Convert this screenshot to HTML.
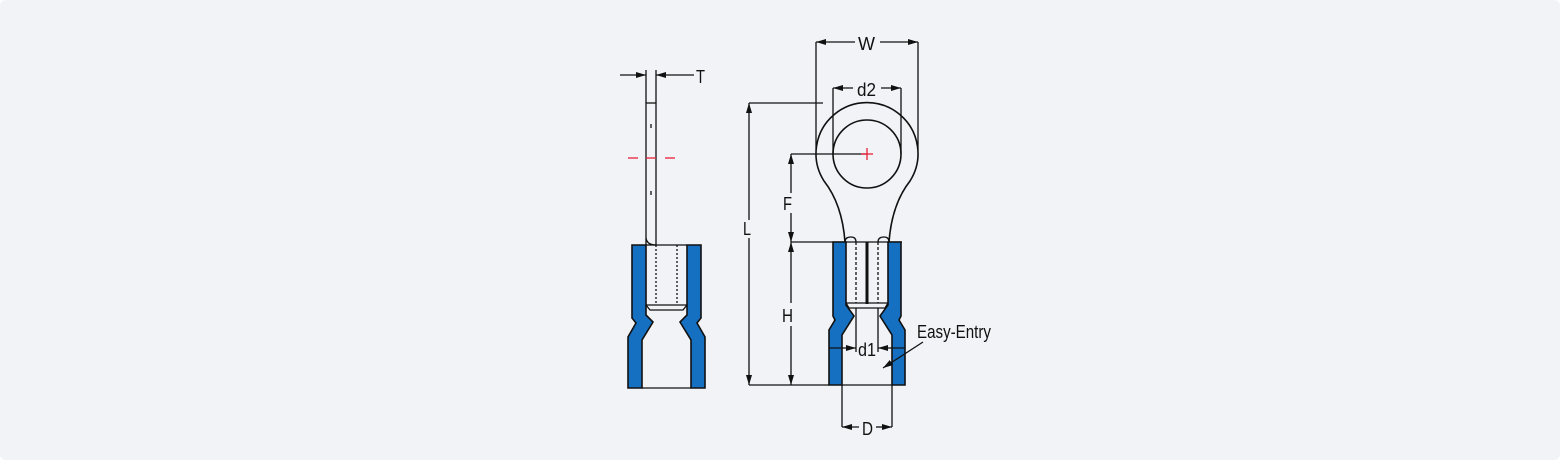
<!DOCTYPE html>
<html><head><meta charset="utf-8"><style>
html,body{margin:0;padding:0;background:#fff;}
.wrap{width:1560px;height:460px;background:#f2f3f7;border-radius:6px;overflow:hidden;}
text{font-family:"Liberation Sans",sans-serif;font-size:18px;fill:#111;}
</style></head><body><div class="wrap">
<svg width="1560" height="460" viewBox="0 0 1560 460" xmlns="http://www.w3.org/2000/svg">
<defs>
<marker id="a" viewBox="0 0 10 6" refX="10" refY="3" markerWidth="10" markerHeight="6" orient="auto-start-reverse" markerUnits="userSpaceOnUse"><path d="M0,0L10,3L0,6z" fill="#111"/></marker>
</defs>
<g stroke="#111" stroke-width="1.3" fill="none">
<!-- SIDE VIEW -->
<rect x="646" y="103" width="10" height="142" fill="#f2f3f7"/>
<path d="M646,238 Q647,245 656,245 L687,245" />
<line x1="656" y1="245" x2="656" y2="305" stroke-dasharray="2,2"/>
<line x1="677" y1="245" x2="677" y2="305" stroke-dasharray="2,2"/>
<line x1="651" y1="124" x2="651" y2="128" /><line x1="651" y1="191" x2="651" y2="195"/>
<path d="M646,305 L687,305 L683,310 L650,310 Z"/>
<path d="M632,245 L646,245 L646,315 L653,322 L642,340 L642,388 L628,388 L628,337 L636,323 L632,318 Z" fill="#1570c2" stroke-width="1.6"/>
<path d="M701,245 L687,245 L687,315 L680,322 L691,340 L691,388 L705,388 L705,337 L697,323 L701,318 Z" fill="#1570c2" stroke-width="1.6"/>
<line x1="642" y1="388" x2="691" y2="388"/>
<line x1="646" y1="103" x2="646" y2="70"/><line x1="656" y1="103" x2="656" y2="70"/>
<line x1="620" y1="75" x2="646" y2="75" marker-end="url(#a)"/>
<line x1="694" y1="75" x2="656" y2="75" marker-end="url(#a)"/>
<!-- FRONT VIEW ring -->
<path d="M845,242 C843,215 835,195 824,181 A51,51 0 1 1 910,181 C899,195 891,215 889,242" stroke-width="1.6"/>
<circle cx="867" cy="154" r="34" stroke-width="1.6"/>
<path d="M845,242 Q845,237 851,237 Q856,237 856,242"/>
<path d="M878,242 Q878,237 884,237 Q889,237 889,242"/>
<!-- sleeve -->
<line x1="791" y1="242" x2="902" y2="242"/>
<line x1="856" y1="242" x2="856" y2="303" stroke-dasharray="3,2"/>
<line x1="878" y1="242" x2="878" y2="303" stroke-dasharray="3,2"/>
<rect x="865.5" y="242" width="3" height="62" fill="#111" stroke="none"/>
<path d="M846,303 L888,303 L885,308 L849,308 Z"/>
<path d="M833,242 L846,242 L846,305 L854,316 L842,335 L842,385 L829,385 L829,330 L835,320 L833,316 Z" fill="#1570c2" stroke-width="1.6"/>
<path d="M901,242 L888,242 L888,305 L880,316 L892,335 L892,385 L905,385 L905,330 L899,320 L901,316 Z" fill="#1570c2" stroke-width="1.6"/>
<line x1="842" y1="385" x2="892" y2="385"/>
<!-- dims -->
<line x1="749" y1="103" x2="823" y2="103"/>
<line x1="749" y1="385" x2="829" y2="385"/>
<line x1="749" y1="220" x2="749" y2="103" marker-end="url(#a)"/>
<line x1="749" y1="238" x2="749" y2="385" marker-end="url(#a)"/>
<line x1="791" y1="154" x2="867" y2="154"/>
<line x1="791" y1="193" x2="791" y2="154" marker-end="url(#a)"/>
<line x1="791" y1="213" x2="791" y2="242" marker-end="url(#a)"/>
<line x1="791" y1="303" x2="791" y2="242" marker-end="url(#a)"/>
<line x1="791" y1="326" x2="791" y2="385" marker-end="url(#a)"/>
<line x1="816" y1="42" x2="816" y2="150"/><line x1="918" y1="42" x2="918" y2="150"/>
<line x1="855" y1="42" x2="816" y2="42" marker-end="url(#a)"/>
<line x1="880" y1="42" x2="918" y2="42" marker-end="url(#a)"/>
<line x1="833" y1="88" x2="833" y2="154"/><line x1="901" y1="88" x2="901" y2="154"/>
<line x1="853" y1="88" x2="833" y2="88" marker-end="url(#a)"/>
<line x1="881" y1="88" x2="901" y2="88" marker-end="url(#a)"/>
<line x1="842" y1="385" x2="842" y2="427"/><line x1="892" y1="385" x2="892" y2="427"/>
<line x1="859" y1="427" x2="842" y2="427" marker-end="url(#a)"/>
<line x1="876" y1="427" x2="892" y2="427" marker-end="url(#a)"/>
<line x1="856" y1="308" x2="856" y2="352"/><line x1="878" y1="308" x2="878" y2="352"/>
<line x1="829" y1="348" x2="856" y2="348" marker-end="url(#a)"/>
<line x1="905" y1="348" x2="878" y2="348" marker-end="url(#a)"/>
<line x1="923" y1="342" x2="883" y2="368" marker-end="url(#a)"/>
</g>
<g stroke="#e8203a" stroke-width="1.3">
<line x1="628" y1="158" x2="638" y2="158"/><line x1="646" y1="158" x2="656" y2="158"/><line x1="665" y1="158" x2="675" y2="158"/>
<line x1="861" y1="154" x2="873" y2="154"/><line x1="867" y1="148" x2="867" y2="160"/>
</g>
<text x="696" y="83" textLength="9" lengthAdjust="spacingAndGlyphs">T</text>
<text x="858" y="50" textLength="17" lengthAdjust="spacingAndGlyphs">W</text>
<text x="857" y="96" textLength="19" lengthAdjust="spacingAndGlyphs">d2</text>
<text x="743" y="235" textLength="8" lengthAdjust="spacingAndGlyphs">L</text>
<text x="783" y="210" textLength="9" lengthAdjust="spacingAndGlyphs">F</text>
<text x="782" y="322" textLength="11" lengthAdjust="spacingAndGlyphs">H</text>
<text x="858" y="356" textLength="18" lengthAdjust="spacingAndGlyphs">d1</text>
<text x="862" y="435" textLength="11" lengthAdjust="spacingAndGlyphs">D</text>
<text x="917" y="338" textLength="74" lengthAdjust="spacingAndGlyphs">Easy-Entry</text>
</svg>
</div></body></html>
